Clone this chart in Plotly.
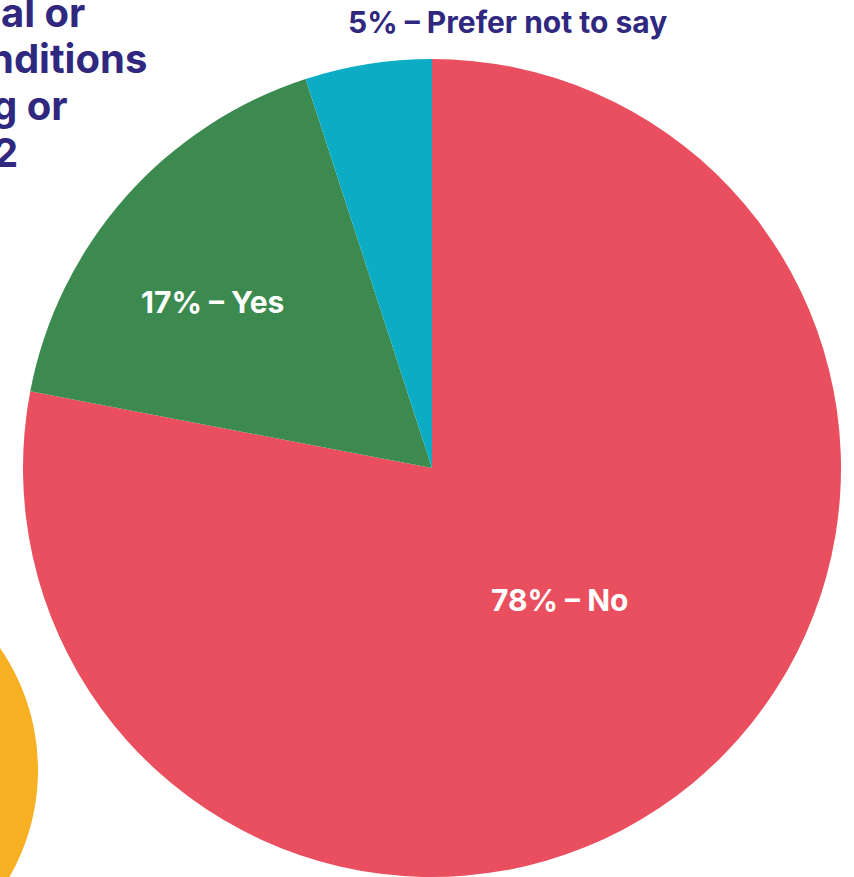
import plotly.graph_objects as go

# Survey answers, clockwise from 12 o'clock
labels = ["No", "Yes", "Prefer not to say"]
values = [78, 17, 5]
colors = ["#E94F5E", "#3C8A4F", "#0CADC4"]

# Partially visible heading lines (left side runs off the page)
heading_lines = ["al or", "nditions", "g or", "2"]

W, H = 854, 877
PURPLE = "#30287F"
FONT = "Inter"

def px_x(x):
    return x / W

def px_y(y):
    return 1 - y / H

fig = go.Figure(
    go.Pie(
        labels=labels,
        values=values,
        marker=dict(colors=colors, line=dict(width=0)),
        sort=False,
        direction="clockwise",
        rotation=0,
        textinfo="none",
        hoverinfo="label+percent",
        showlegend=False,
        domain=dict(x=[px_x(22), px_x(842)], y=[0, px_y(59)]),
    )
)

annotations = []
# Slice labels
label_spots = [(560, 600, "white"), (212, 302, "white"), (507, 22, PURPLE)]
for (lab, val), (x, y, col) in zip(zip(labels, values), label_spots):
    annotations.append(dict(
        x=px_x(x), y=px_y(y), xref="paper", yref="paper",
        text=f"<b>{val}% – {lab}</b>", showarrow=False,
        xanchor="center", yanchor="middle",
        font=dict(family=FONT, size=30, color=col),
    ))

# Heading fragments, right-aligned at their visible ends
heading_ends = [87, 149, 70, 20]
heading_ys = [12, 58, 105, 152]
for txt, xe, y in zip(heading_lines, heading_ends, heading_ys):
    annotations.append(dict(
        x=px_x(xe), y=px_y(y), xref="paper", yref="paper",
        text=f"<b>{txt}</b>", showarrow=False,
        xanchor="right", yanchor="middle",
        font=dict(family=FONT, size=40, color=PURPLE),
    ))

# Decorative yellow disc at lower left
cx, cy, r = -177, 770, 215
shapes = [dict(
    type="circle", xref="paper", yref="paper",
    x0=px_x(cx - r), x1=px_x(cx + r), y0=px_y(cy + r), y1=px_y(cy - r),
    fillcolor="#F7B022", line=dict(width=0), layer="below",
)]

fig.update_layout(
    width=W, height=H,
    margin=dict(l=0, r=0, t=0, b=0),
    paper_bgcolor="white", plot_bgcolor="white",
    annotations=annotations, shapes=shapes,
)

fig.write_html("out.html")
